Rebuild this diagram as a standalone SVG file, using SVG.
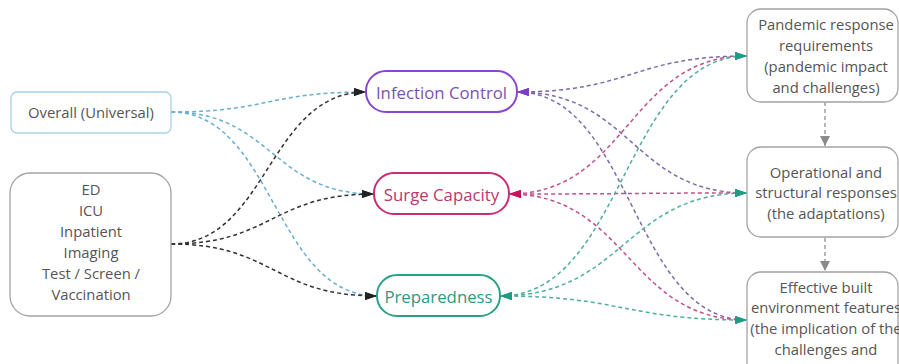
<svg xmlns="http://www.w3.org/2000/svg" width="899" height="364" viewBox="0 0 899 364">
  <style>
    text { font-family: "Open Sans", "Noto Sans", "DejaVu Sans", sans-serif; text-anchor: middle; dominant-baseline: central; }
    .box { fill: #ffffff; stroke: #a3a3a3; stroke-width: 1.3; }
    .label { font-size: 14.8px; fill: #555555; }
    .cat { font-size: 16.8px; }
    .link { fill: none; stroke-width: 1.5; stroke-dasharray: 4 3; }
  </style>
  <defs>
    <marker id="ah-black" viewBox="0 0 12 8" refX="12" refY="4" markerWidth="12" markerHeight="8" markerUnits="userSpaceOnUse" orient="auto-start-reverse">
      <path d="M0,0 L12,4 L0,8 z" fill="#222222"/>
    </marker>
    <marker id="ah-teal" viewBox="0 0 12 8" refX="12" refY="4" markerWidth="12" markerHeight="8" markerUnits="userSpaceOnUse" orient="auto-start-reverse">
      <path d="M0,0 L12,4 L0,8 z" fill="#1f9c84"/>
    </marker>
    <marker id="ah-purple" viewBox="0 0 12 8" refX="12" refY="4" markerWidth="12" markerHeight="8" markerUnits="userSpaceOnUse" orient="auto-start-reverse">
      <path d="M0,0 L12,4 L0,8 z" fill="#7a3fc4"/>
    </marker>
    <marker id="ah-magenta" viewBox="0 0 12 8" refX="12" refY="4" markerWidth="12" markerHeight="8" markerUnits="userSpaceOnUse" orient="auto-start-reverse">
      <path d="M0,0 L12,4 L0,8 z" fill="#c8125e"/>
    </marker>
    <marker id="ah-gray" viewBox="0 0 10 10" refX="10" refY="5" markerWidth="10" markerHeight="10" markerUnits="userSpaceOnUse" orient="auto">
      <path d="M0,0 L10,5 L0,10 z" fill="#8a8a8a"/>
    </marker>
  </defs>

  <!-- connectors -->
  <g id="connectors">
    <!-- universal scope to the three themes -->
    <path class="link" stroke="#6aaed0" d="M171,112 C268,112 268,92 366,92" marker-end="url(#ah-black)"/>
    <path class="link" stroke="#6aaed0" d="M171,112 C272,112 272,194 374,194" marker-end="url(#ah-black)"/>
    <path class="link" stroke="#6aaed0" d="M171,112 C274,112 274,296 377,296" marker-end="url(#ah-black)"/>
    <!-- departments to the three themes -->
    <path class="link" stroke="#333333" d="M171,244 C268,244 268,92 366,92" marker-end="url(#ah-black)"/>
    <path class="link" stroke="#333333" d="M171,244 C272,244 272,194 374,194" marker-end="url(#ah-black)"/>
    <path class="link" stroke="#333333" d="M171,244 C274,244 274,296 377,296" marker-end="url(#ah-black)"/>

    <!-- infection control to the framework stages -->
    <path class="link" stroke="#7d6aa8" d="M517,92 C632,92 632,56 747,56" marker-start="url(#ah-purple)" marker-end="url(#ah-teal)"/>
    <path class="link" stroke="#7d6aa8" d="M517,92 C632,92 632,193 747,193" marker-start="url(#ah-purple)" marker-end="url(#ah-teal)"/>
    <path class="link" stroke="#7d6aa8" d="M517,92 C632,92 632,320 747,320" marker-start="url(#ah-purple)" marker-end="url(#ah-teal)"/>
    <!-- surge capacity to the framework stages -->
    <path class="link" stroke="#c4508a" d="M509,194 C628,194 628,56 747,56" marker-start="url(#ah-magenta)" marker-end="url(#ah-teal)"/>
    <path class="link" stroke="#c4508a" d="M509,194 C628,194 628,193 747,193" marker-start="url(#ah-magenta)" marker-end="url(#ah-teal)"/>
    <path class="link" stroke="#c4508a" d="M509,194 C628,194 628,320 747,320" marker-start="url(#ah-magenta)" marker-end="url(#ah-teal)"/>
    <!-- preparedness to the framework stages -->
    <path class="link" stroke="#4fae9c" d="M500,296 C624,296 624,56 747,56" marker-start="url(#ah-teal)" marker-end="url(#ah-teal)"/>
    <path class="link" stroke="#4fae9c" d="M500,296 C624,296 624,193 747,193" marker-start="url(#ah-teal)" marker-end="url(#ah-teal)"/>
    <path class="link" stroke="#4fae9c" d="M500,296 C624,296 624,320 747,320" marker-start="url(#ah-teal)" marker-end="url(#ah-teal)"/>

    <!-- framework sequence -->
    <path class="link" stroke="#a0a0a0" stroke-width="1.3" d="M825,102 L825,146" marker-end="url(#ah-gray)"/>
    <path class="link" stroke="#a0a0a0" stroke-width="1.3" d="M825,238 L825,271" marker-end="url(#ah-gray)"/>
  </g>

  <!-- left column -->
  <g id="overall">
    <rect x="11" y="92" width="160" height="41" rx="6" fill="#ffffff" stroke="#a8d2e6" stroke-width="1.3"/>
    <text class="label" x="91" y="112">Overall (Universal)</text>
  </g>
  <g id="departments">
    <rect class="box" x="10" y="173" width="161" height="143" rx="20"/>
    <text class="label" x="91" y="189">ED</text>
    <text class="label" x="91" y="210">ICU</text>
    <text class="label" x="91" y="231">Inpatient</text>
    <text class="label" x="91" y="252">Imaging</text>
    <text class="label" x="91" y="273">Test / Screen /</text>
    <text class="label" x="91" y="294">Vaccination</text>
  </g>

  <!-- themes -->
  <g id="infection-control">
    <rect x="366" y="71" width="151" height="41" rx="20" fill="#ffffff" stroke="#8a45d2" stroke-width="2"/>
    <text class="cat" x="441.5" y="92" fill="#7a52b0">Infection Control</text>
  </g>
  <g id="surge-capacity">
    <rect x="374" y="173" width="135" height="41" rx="20" fill="#ffffff" stroke="#cc2a74" stroke-width="2"/>
    <text class="cat" x="441.5" y="194" fill="#b8386f">Surge Capacity</text>
  </g>
  <g id="preparedness">
    <rect x="377" y="275" width="123" height="41" rx="20" fill="#ffffff" stroke="#2aa086" stroke-width="2"/>
    <text class="cat" x="438.5" y="296" fill="#2a9a82">Preparedness</text>
  </g>

  <!-- framework stages -->
  <g id="requirements">
    <rect class="box" x="747" y="9" width="151" height="93" rx="14"/>
    <text class="label" x="826" y="24">Pandemic response</text>
    <text class="label" x="826" y="45">requirements</text>
    <text class="label" x="826" y="66">(pandemic impact</text>
    <text class="label" x="826" y="87">and challenges)</text>
  </g>
  <g id="responses">
    <rect class="box" x="747" y="147" width="151" height="90" rx="14"/>
    <text class="label" x="826" y="172">Operational and</text>
    <text class="label" x="826" y="192">structural responses</text>
    <text class="label" x="826" y="213">(the adaptations)</text>
  </g>
  <g id="built-environment">
    <rect class="box" x="747" y="272" width="151" height="110" rx="14"/>
    <text class="label" x="826" y="287">Effective built</text>
    <text class="label" x="826" y="307">environment features</text>
    <text class="label" x="826" y="328">(the implication of the</text>
    <text class="label" x="826" y="349">challenges and</text>
  </g>
</svg>
